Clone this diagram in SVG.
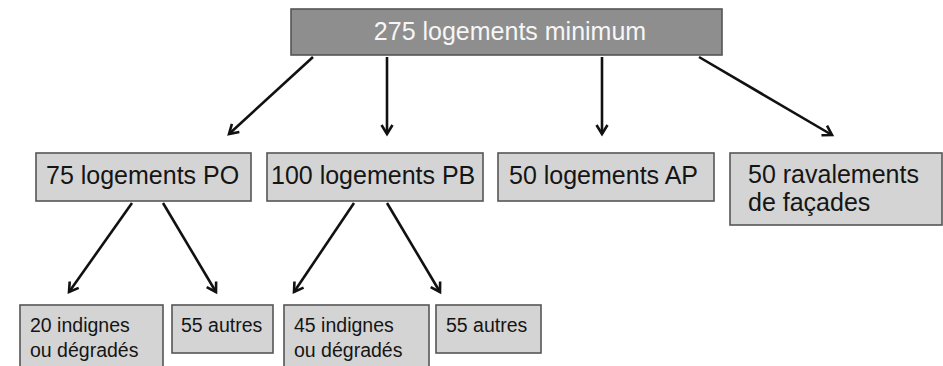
<svg xmlns="http://www.w3.org/2000/svg" width="943" height="366" viewBox="0 0 943 366">
<style>
  .box{fill:#d4d4d4;stroke:#555;stroke-width:1.6}
  .top{fill:#8e8e8e;stroke:#555;stroke-width:1.6}
  .t{font-family:"Liberation Sans",Arial,sans-serif;font-size:25px;fill:#151515}
  .tw{font-family:"Liberation Sans",Arial,sans-serif;font-size:25px;fill:#f6f6f6}
  .ts{font-family:"Liberation Sans",Arial,sans-serif;font-size:19.5px;fill:#151515}
  .c{fill:none;stroke:#111;stroke-width:2.6;marker-end:url(#ah)}
</style>
<defs>
  <marker id="ah" markerWidth="14" markerHeight="14" refX="11" refY="7" orient="auto" markerUnits="userSpaceOnUse">
    <path d="M2,1.5 L11,7 L2,12.5" fill="none" stroke="#111" stroke-width="2.6"/>
  </marker>
</defs>
<rect width="943" height="366" fill="#fff"/>
<g id="connectors">
  <line class="c" x1="313" y1="57" x2="229" y2="134"/>
  <line class="c" x1="387" y1="57" x2="387" y2="134"/>
  <line class="c" x1="602" y1="57" x2="602" y2="134"/>
  <line class="c" x1="699" y1="57" x2="832" y2="135"/>
  <line class="c" x1="132" y1="203" x2="69" y2="292"/>
  <line class="c" x1="163" y1="203" x2="216" y2="292"/>
  <line class="c" x1="354" y1="203" x2="294" y2="292"/>
  <line class="c" x1="387" y1="203" x2="440" y2="292"/>
</g>
<g id="n-top">
  <rect class="top" x="291" y="9" width="431" height="46"/>
  <text class="tw" x="510" y="40" text-anchor="middle">275 logements minimum</text>
</g>
<g id="n-po">
  <rect class="box" x="36" y="153" width="215" height="48"/>
  <text class="t" x="46" y="184">75 logements PO</text>
</g>
<g id="n-pb">
  <rect class="box" x="267" y="153" width="216" height="48"/>
  <text class="t" x="271" y="184">100 logements PB</text>
</g>
<g id="n-ap">
  <rect class="box" x="498" y="153" width="216" height="48"/>
  <text class="t" x="509" y="184">50 logements AP</text>
</g>
<g id="n-rav">
  <rect class="box" x="730" y="153" width="212" height="72"/>
  <text class="t" x="748" y="183">50 ravalements</text>
  <text class="t" x="748" y="211">de façades</text>
</g>
<g id="n-po-ind">
  <rect class="box" x="20" y="305" width="143" height="70"/>
  <text class="ts" x="30" y="332">20 indignes</text>
  <text class="ts" x="30" y="357">ou dégradés</text>
</g>
<g id="n-po-aut">
  <rect class="box" x="172" y="305" width="101" height="48"/>
  <text class="ts" x="181" y="332">55 autres</text>
</g>
<g id="n-pb-ind">
  <rect class="box" x="284" y="305" width="145" height="70"/>
  <text class="ts" x="294" y="332">45 indignes</text>
  <text class="ts" x="294" y="357">ou dégradés</text>
</g>
<g id="n-pb-aut">
  <rect class="box" x="436" y="305" width="105" height="48"/>
  <text class="ts" x="446" y="332">55 autres</text>
</g>
</svg>
